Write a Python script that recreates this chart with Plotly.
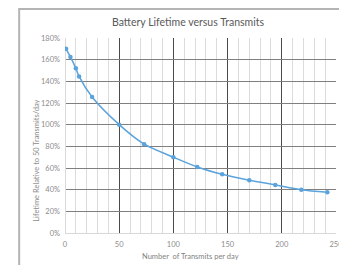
import plotly.graph_objects as go

transmits_per_day = [1, 5, 10, 13, 25, 50, 73, 100, 122, 145, 170, 194, 218, 242]
lifetime_rel = [1.70, 1.625, 1.52, 1.445, 1.255, 1.00, 0.82, 0.70, 0.61, 0.542, 0.487, 0.444, 0.40, 0.376]

title_text = "Battery Lifetime versus Transmits"
x_title = "Number  of Transmits per day"
y_title = "Lifetime Relative to 50 Transmits/day"

FONT = "Lato"
W, H = 347, 265
OFF = 8  # page body margin offset
L, T = 65 - OFF, 38 - OFF
PW, PH = 278, 195
R = W - L - PW
B = H - T - PH

fig = go.Figure()
fig.add_trace(go.Scatter(
    x=transmits_per_day, y=lifetime_rel, mode="lines+markers",
    line=dict(color="#5ba3dc", width=1.5, shape="spline", smoothing=0.8),
    marker=dict(color="#5ba3dc", size=4.5),
    showlegend=False, hoverinfo="x+y",
))

def px(xp): return (xp - OFF - L) / PW
def py(yp): return (T + PH - (yp - OFF)) / PH

fig.update_layout(
    width=W, height=H,
    margin=dict(l=L, r=R, t=T, b=B),
    paper_bgcolor="white", plot_bgcolor="white",
    title=dict(text=title_text, x=(188 - OFF) / W, xanchor="center", y=1 - (22 - OFF) / H, yanchor="middle",
               font=dict(family=FONT, size=10.5, color="#595959")),
    xaxis=dict(range=[0, 250], dtick=50, tick0=0, showgrid=True, gridcolor="#4a4a4a", gridwidth=1,
               minor=dict(dtick=10, showgrid=True, gridcolor="#dcdcdc", gridwidth=1),
               zeroline=True, zerolinecolor="#d9d9d9", zerolinewidth=1,
               showline=False, ticks="", ticklen=0, ticklabelstandoff=5,
               tickfont=dict(family=FONT, size=7.5, color="#8c8c8c"), fixedrange=True),
    yaxis=dict(range=[0, 1.8], dtick=0.2, tickformat=".0%", showgrid=True, gridcolor="#7f7f7f",
               gridwidth=1, zeroline=True, zerolinecolor="#d9d9d9", zerolinewidth=1,
               showline=False, ticks="", ticklen=0, ticklabelstandoff=4,
               tickfont=dict(family=FONT, size=7.5, color="#8c8c8c"), fixedrange=True),
    shapes=[
        dict(type="rect", xref="paper", yref="paper", x0=px(18), x1=px(W + 30), y0=py(H + 30), y1=py(9),
             line=dict(color="#b4b4b4", width=2), layer="below"),
    ],
    annotations=[
        dict(text=x_title, xref="paper", yref="paper", x=px(194), y=py(256), xanchor="center", yanchor="middle",
             showarrow=False, font=dict(family=FONT, size=7.5, color="#7f7f7f")),
        dict(text=y_title, xref="paper", yref="paper", x=px(35), y=py(161), xanchor="center", yanchor="middle",
             textangle=-90, showarrow=False, font=dict(family=FONT, size=7.5, color="#8c8c8c")),
    ],
)

fig.write_html("out.html")
